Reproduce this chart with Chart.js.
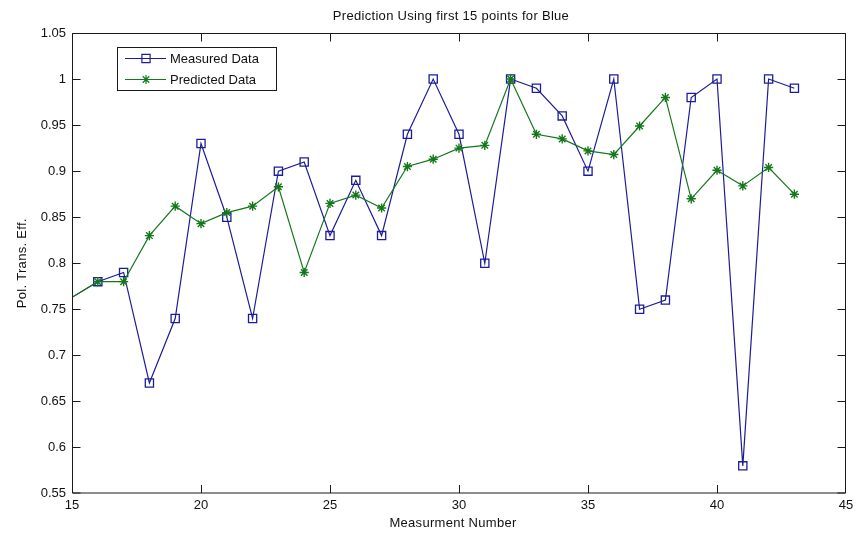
<!DOCTYPE html>
<html>
<head>
<meta charset="utf-8">
<script src="https://cdn.jsdelivr.net/npm/chart.js@4/dist/chart.umd.min.js"></script>
<style>
  html, body { margin: 0; padding: 0; background: #ffffff; }
  #wrap { width: 867px; height: 535px; }
</style>
</head>
<body>
<div id="wrap"><canvas id="c" width="867" height="535"></canvas></div>
<script>
// Measurement index along the x axis
const measurementNumbers = [15, 16, 17, 18, 19, 20, 21, 22, 23, 24, 25, 26, 27, 28, 29,
                            30, 31, 32, 33, 34, 35, 36, 37, 38, 39, 40, 41, 42, 43];

// Polarisation transfer efficiency, measured
const measuredData = [0.763, 0.78, 0.79, 0.67, 0.74, 0.93, 0.85, 0.74, 0.90, 0.91, 0.83, 0.89, 0.83, 0.94, 1.00,
                      0.94, 0.80, 1.00, 0.99, 0.96, 0.90, 1.00, 0.75, 0.76, 0.98, 1.00, 0.58, 1.00, 0.99];

// Polarisation transfer efficiency, predicted
const predictedData = [0.763, 0.78, 0.78, 0.83, 0.862, 0.843, 0.855, 0.862, 0.883, 0.79, 0.865, 0.874, 0.86, 0.905, 0.913,
                       0.925, 0.928, 1.00, 0.94, 0.935, 0.922, 0.918, 0.949, 0.98, 0.87, 0.901, 0.884, 0.904, 0.875];

// Axis ticks and their labels
const xTicks = [15, 20, 25, 30, 35, 40, 45];
const xTickLabels = ['15', '20', '25', '30', '35', '40', '45'];
const yTicks = [0.55, 0.6, 0.65, 0.7, 0.75, 0.8, 0.85, 0.9, 0.95, 1, 1.05];
const yTickLabels = ['0.55', '0.6', '0.65', '0.7', '0.75', '0.8', '0.85', '0.9', '0.95', '1', '1.05'];

const seriesNames = ['Measured Data', 'Predicted Data'];
const titleText = 'Prediction Using first 15 points for Blue';
const xTitle = 'Measurment Number';
const yTitle = 'Pol. Trans. Eff.';

const FONT = '"Liberation Sans", Arial, Helvetica, sans-serif';
const BLUE = '#1c1c98';
const GREEN = '#14781a';
const AXIS = '#1a1a1a';

function toPoints(values) {
  return measurementNumbers.map((x, i) => ({ x: x, y: values[i] }));
}

// The first sample sits on the left axis limit; only its line segment shows.
const markerRadius = (r) => (ctx) => (ctx.dataIndex === 0 ? 0 : r);

// Box frame, inward tick marks, legend box and text labels
const framePlugin = {
  id: 'frame',
  afterDatasetsDraw(chart) {
    const { ctx, chartArea, scales } = chart;
    const { left, right, top, bottom } = chartArea;
    const tl = 8;
    const x0 = left + 0.5, x1 = right - 0.5, y0 = top + 0.5, y1 = bottom - 0.5;
    const clamp = (v, a, b) => Math.min(Math.max(v, a), b);
    ctx.save();
    ctx.strokeStyle = AXIS;
    ctx.lineWidth = 1;
    ctx.beginPath();
    ctx.rect(x0, y0, x1 - x0, y1 - y0);
    ctx.stroke();

    ctx.beginPath();
    scales.x.ticks.forEach(t => {
      const px = clamp(Math.round(scales.x.getPixelForValue(t.value)) + 0.5, x0, x1);
      ctx.moveTo(px, y1); ctx.lineTo(px, y1 - tl);
      ctx.moveTo(px, y0); ctx.lineTo(px, y0 + tl);
    });
    scales.y.ticks.forEach(t => {
      const py = clamp(Math.round(scales.y.getPixelForValue(t.value)) + 0.5, y0, y1);
      ctx.moveTo(x0, py); ctx.lineTo(x0 + tl, py);
      ctx.moveTo(x1, py); ctx.lineTo(x1 - tl, py);
    });
    ctx.stroke();

    // Legend
    const lx = 117, ly = 47, lw = 159, lh = 43;
    ctx.fillStyle = '#ffffff';
    ctx.fillRect(lx, ly, lw, lh);
    ctx.strokeStyle = AXIS;
    ctx.strokeRect(lx + 0.5, ly + 0.5, lw, lh);
    chart.data.datasets.forEach((ds, i) => {
      const ry = 58 + i * 21;
      ctx.strokeStyle = ds.borderColor;
      ctx.lineWidth = ds.borderWidth;
      ctx.beginPath();
      ctx.moveTo(125, ry + 0.5); ctx.lineTo(166, ry + 0.5);
      ctx.stroke();
      ctx.fillStyle = 'rgba(0,0,0,0)';
      Chart.helpers.drawPoint(ctx, {
        pointStyle: ds.pointStyle,
        radius: ds.legendRadius,
        rotation: 0,
        borderWidth: ds.pointBorderWidth
      }, 146, ry + 0.5);
      ctx.fillStyle = '#111111';
      ctx.font = '13px ' + FONT;
      ctx.textAlign = 'left';
      ctx.textBaseline = 'middle';
      ctx.fillText(ds.label, 170, ry + 1);
    });

    // Title and axis titles
    ctx.fillStyle = '#111111';
    ctx.font = '13px ' + FONT;
    ctx.textAlign = 'center';
    ctx.textBaseline = 'middle';
    ctx.letterSpacing = '0.3px';
    ctx.fillText(titleText, 451, 16);
    ctx.fillText(xTitle, 453, 523);
    ctx.translate(22, (top + bottom) / 2);
    ctx.rotate(-Math.PI / 2);
    ctx.fillText(yTitle, 0, 0);
    ctx.restore();
  }
};

new Chart(document.getElementById('c'), {
  type: 'line',
  data: {
    datasets: [
      {
        label: seriesNames[0],
        data: toPoints(measuredData),
        borderColor: BLUE,
        backgroundColor: 'rgba(0,0,0,0)',
        borderWidth: 1.2,
        pointStyle: 'rect',
        pointRadius: markerRadius(5.8),
        legendRadius: 5.8,
        pointBorderColor: BLUE,
        pointBackgroundColor: 'rgba(0,0,0,0)',
        pointBorderWidth: 1.3,
        tension: 0,
        order: 1
      },
      {
        label: seriesNames[1],
        data: toPoints(predictedData),
        borderColor: GREEN,
        backgroundColor: 'rgba(0,0,0,0)',
        borderWidth: 1.2,
        pointStyle: 'star',
        pointRadius: markerRadius(4.6),
        legendRadius: 4.6,
        pointBorderColor: GREEN,
        pointBackgroundColor: GREEN,
        pointBorderWidth: 1.4,
        tension: 0,
        order: 0
      }
    ]
  },
  options: {
    responsive: false,
    devicePixelRatio: 1,
    animation: false,
    layout: { padding: { top: 33, right: 21, left: 0, bottom: 0 } },
    plugins: {
      legend: { display: false },
      title: { display: false },
      tooltip: { enabled: false }
    },
    scales: {
      x: {
        type: 'linear',
        min: 15,
        max: 45,
        afterBuildTicks: (s) => { s.ticks = xTicks.map(v => ({ value: v })); },
        afterFit: (s) => { s.height = 41.5; },
        grid: { display: false, drawTicks: false },
        border: { display: false },
        ticks: {
          padding: 4,
          color: '#111111',
          font: { family: FONT, size: 13 },
          maxRotation: 0,
          callback: (v) => xTickLabels[xTicks.indexOf(v)]
        }
      },
      y: {
        type: 'linear',
        min: 0.55,
        max: 1.05,
        afterBuildTicks: (s) => { s.ticks = yTicks.map(v => ({ value: v })); },
        afterFit: (s) => { s.width = 72; },
        grid: { display: false, drawTicks: false },
        border: { display: false },
        ticks: {
          padding: 6,
          color: '#111111',
          font: { family: FONT, size: 13 },
          callback: (v) => yTickLabels[yTicks.findIndex(t => Math.abs(t - v) < 1e-9)]
        }
      }
    }
  },
  plugins: [framePlugin]
});
</script>
</body>
</html>
